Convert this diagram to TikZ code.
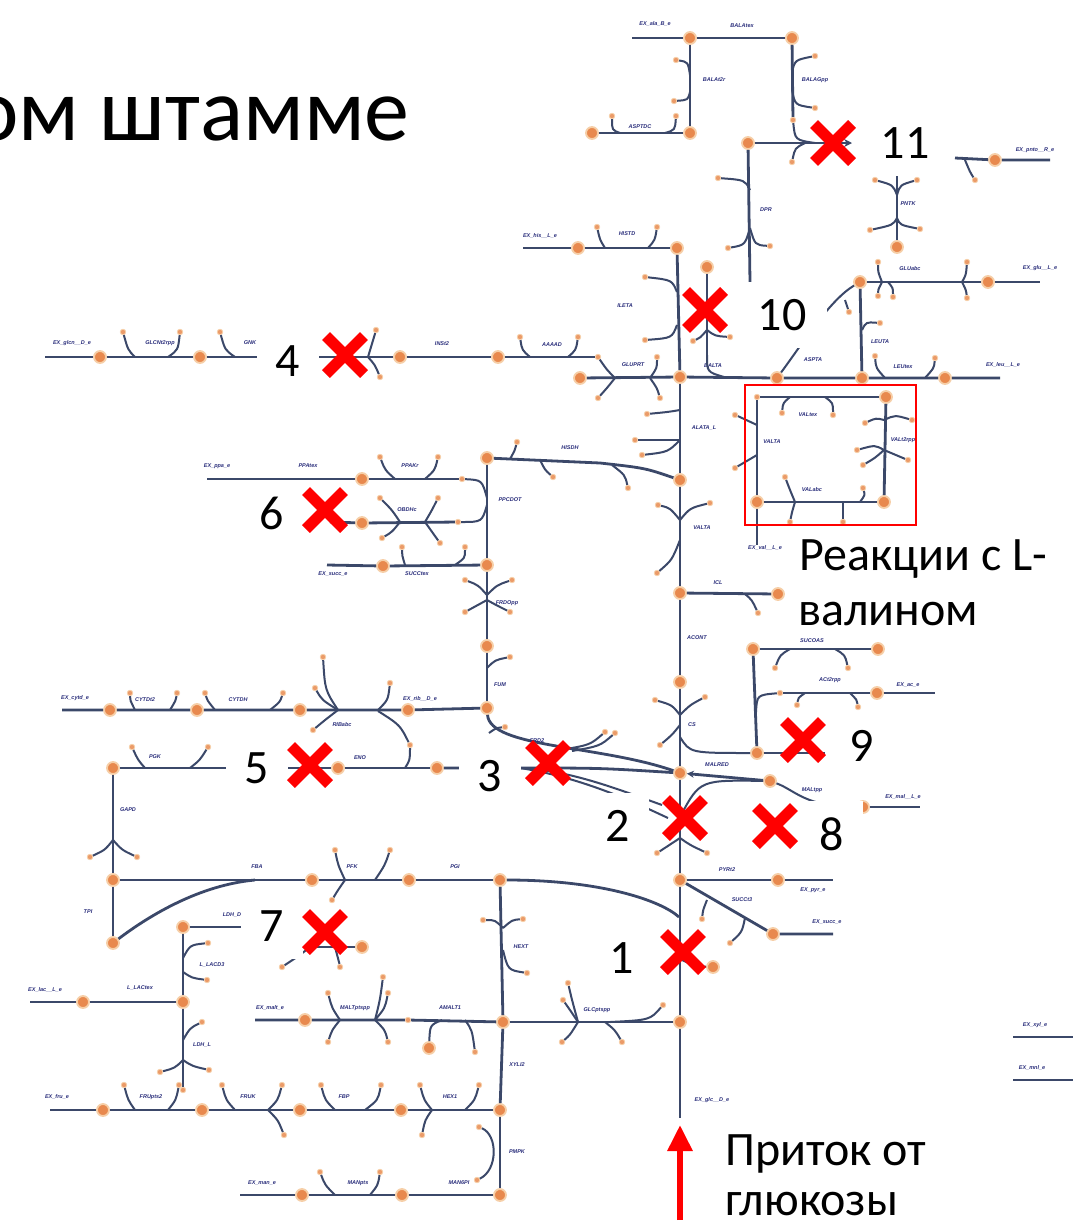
\documentclass[tikz,border=0pt]{standalone}
\usepackage{fontspec}
\setmainfont{Carlito}
\setsansfont{Liberation Sans}
\usetikzlibrary{arrows.meta}
\definecolor{lnc}{HTML}{3B4869}
\definecolor{metc}{HTML}{E8894E}
\definecolor{halo}{HTML}{F6CFA8}
\definecolor{rxc}{HTML}{2B2F7C}
\newcounter{rl}
\newcommand\met[2]{\node[met] (#1) at (#2) {};}
\newcommand\smet[2]{\node[sm] (#1) at (#2) {};}
\newcommand\jn[2]{\coordinate (#1) at (#2);}
\newcommand\rlab[2]{\stepcounter{rl}\node[rxn] (rl\arabic{rl}) at (#1) {#2};}
\newcommand\brn[4]{\coordinate (#1j) at (#2); \node[sm] (#1) at (#4) {}; \draw[brl] (#1j) .. controls (#3) .. (#1);}
\newcommand\xmk[2]{\draw[xm] ({#1-19},{#2-19}) -- ({#1+19},{#2+19}) ({#1-19},{#2+19}) -- ({#1+19},{#2-19});}
\tikzset{
 ln/.style={draw=lnc, line width=2.8pt},
 brl/.style={draw=lnc, line width=2pt},
 met/.style={circle, fill=metc, draw=halo, line width=1.8pt, minimum size=12pt, inner sep=0pt},
 sm/.style={circle, fill=metc!85, draw=halo, line width=0.8pt, minimum size=5.5pt, inner sep=0pt},
 rxn/.style={font=\fontsize{5.5}{6}\selectfont\sffamily\bfseries\itshape, text=rxc, inner sep=0.5pt},
 numb/.style={font=\fontsize{48}{48}\selectfont, fill=white, minimum width=62pt, minimum height=66pt, inner sep=0pt},
 bigt/.style={font=\fontsize{48}{48}\selectfont, inner sep=0pt},
 xm/.style={draw=red, line width=11pt},
}
\begin{document}
\begin{tikzpicture}[x=1pt,y=-1pt]
\fill[white] (0,0) rectangle (1073,1224);
\useasboundingbox (0,0) rectangle (1073,1224);

% ---------- top ----------
\met{a1}{690,38} \met{a2}{792,38} \met{a3}{690,133} \met{a4}{592,133} \met{a5}{748,143}
\jn{exala}{632,38}
\draw[ln] (exala) -- (a1); \draw[ln] (a1) -- (a2); \draw[ln] (a1) -- (a3); \draw[ln] (a4) -- (a3);
\smet{a2s}{793,120} \draw[ln] (a2) -- (a2s);
\jn{a2c}{815,143} \draw[brl] (a2s) .. controls (795,140) .. (a2c);
\jn{x11l}{852,143} \draw[ln,-{Stealth[length=8pt,width=8pt]}] (a5) -- (x11l);
\brn{a5d}{805,143}{795,148}{792,162}
\brn{b1}{690,75}{688,62}{676,60}
\brn{b2}{690,92}{688,100}{674,101}
\brn{b3}{792,72}{795,60}{815,56}
\brn{b4}{792,90}{795,105}{815,108}
\brn{b5}{620,133}{612,130}{612,116}
\brn{b6}{665,133}{675,130}{676,116}
\rlab{655,24}{EX\_ala\_B\_e} \rlab{742,26}{BALAtex} \rlab{714,80}{BALAt2r}
\rlab{815,80}{BALAGpp} \rlab{640,127}{ASPTDC}
% DPR
\jn{dprb}{750,282} \draw[ln] (a5) -- (dprb);
\brn{b7}{750,190}{745,180}{718,178}
\brn{b8}{750,228}{745,245}{728,248}
\brn{b9}{750,228}{755,245}{770,246}
\rlab{766,210}{DPR}
% pnto
\jn{pnA}{955,158} \met{pn1}{995,160} \jn{pnB}{1050,160}
\draw[ln] (pnA) -- (pn1) -- (pnB);
\brn{b10}{965,160}{970,172}{975,180}
\rlab{1035,150}{EX\_pnto\_\_R\_e}
\jn{pk0}{897,172} \met{pn2}{897,247} \draw[ln] (pk0) -- (pn2);
\brn{b11}{897,195}{893,185}{875,180}
\brn{b12}{897,195}{900,185}{917,180}
\brn{b11b}{897,218}{893,225}{870,230}
\brn{b12b}{897,218}{900,225}{920,229}
\rlab{908,204}{PNTK}
% glu
\met{g1}{860,282} \met{g2}{988,282} \jn{gE}{1040,282}
\draw[ln] (g1) -- (g2) -- (gE);
\brn{b13}{882,282}{878,272}{878,262}
\brn{b14}{882,282}{878,290}{878,296}
\brn{b15}{888,282}{893,288}{893,297}
\brn{b16}{962,282}{966,275}{967,262}
\brn{b17}{962,282}{966,290}{967,298}
\rlab{910,269}{GLUabc} \rlab{1040,268}{EX\_glu\_\_L\_e}
% leu
\met{c1}{777,378} \met{c2}{862,378} \met{c3}{945,378} \jn{lE}{1000,378}
\draw[ln] (g1) -- (c2);
\brn{b18}{862,330}{866,322}{880,323}
\draw[brl] (c1) .. controls (805,340) and (830,300) .. (g1);
\brn{b20}{845,300}{845,300}{849,312}
\rlab{880,342}{LEUTA}
\met{t1}{680,377}
\draw[ln] (t1) -- (c1) -- (c2) -- (c3) -- (lE);
\brn{b21}{885,378}{876,368}{875,356}
\brn{b22}{925,378}{934,368}{935,358}
\rlab{903,367}{LEUtex} \rlab{1003,365}{EX\_leu\_\_L\_e} \rlab{813,360}{ASPTA} \rlab{713,366}{BALTA}
% vertical 707
\met{v1}{707,267} \jn{v1b}{707,355} \jn{v1c}{724,377}
\draw[ln] (v1) -- (v1b); \draw[brl] (v1b) .. controls (707,372) .. (v1c);
\brn{b23}{707,330}{700,338}{693,341}
\brn{b24}{707,330}{715,336}{730,337}
% trunk top
\met{t0}{677,248} \draw[ln] (t0) -- (t1);
\brn{b25}{677,292}{672,280}{645,277}
\brn{b26}{677,325}{672,338}{645,340}
\rlab{625,306}{ILETA}
\met{h1}{578,248} \jn{hE}{523,248}
\draw[ln] (hE) -- (h1) -- (t0);
\brn{b27}{605,248}{600,240}{597,227}
\brn{b28}{648,248}{655,240}{657,227}
\rlab{540,236}{EX\_his\_\_L\_e} \rlab{627,234}{HISTD}

% ---------- row 357 ----------
\jn{gcE}{45,357} \met{gc1}{100,357} \met{gc2}{200,357} \met{gc4}{400,357} \met{gc5}{498,357} \smet{gc6}{598,357}
\draw[ln] (gcE) -- (gc1) -- (gc2) -- (gc4) -- (gc5) -- (gc6);
\brn{b29}{135,357}{128,350}{123,332}
\brn{b30}{168,357}{178,350}{180,332}
\brn{b31}{235,357}{225,350}{220,332}
\brn{b32}{368,357}{372,345}{376,330}
\brn{b33}{368,357}{375,365}{380,377}
\brn{b34}{530,357}{522,350}{520,337}
\brn{b35}{568,357}{576,350}{578,337}
\rlab{72,343}{EX\_glcn\_\_D\_e} \rlab{160,343}{GLCNt2rpp} \rlab{250,343}{GNK}
\rlab{442,344}{INSt2} \rlab{552,345}{AAAAD}
\met{gp1}{580,378} \draw[ln] (gp1) -- (t1);
\jn{gpj}{615,378} \draw[brl] (gc6) .. controls (607,370) .. (gpj);
\brn{b37}{615,378}{607,388}{598,398}
\brn{b38}{650,378}{657,368}{657,357}
\brn{b39}{650,378}{657,388}{660,398}
\rlab{633,365}{GLUPRT}

% ---------- ALATA / HISDH ----------
\met{t2}{680,480} \draw[ln] (t1) -- (t2);
\brn{b40}{680,410}{668,412}{647,414}
\brn{b41}{680,440}{668,440}{635,440}
\brn{b42}{680,440}{668,452}{642,455}
\rlab{704,428}{ALATA\_L}
\met{p0}{487,458} \jn{hd1}{600,463}
\draw[ln] (p0) -- (hd1) .. controls (645,468) .. (t2);
\brn{b43}{510,459}{515,450}{517,442}
\brn{b44}{540,460}{545,470}{553,477}
\brn{b45}{612,465}{625,475}{628,488}
\rlab{570,448}{HISDH}
\met{t3}{680,593} \draw[ln] (t2) -- (t3);
\brn{b47}{680,520}{670,508}{658,505}
\brn{b48}{680,520}{690,508}{710,503}
\brn{b49}{680,540}{672,560}{657,573}
\rlab{702,528}{VALTA}
\met{i1}{778,594} \draw[ln] (t3) -- (i1);
\brn{b50}{745,594}{752,600}{758,613}
\rlab{718,583}{ICL}
\met{t4}{680,682} \draw[ln] (t3) -- (t4);
\rlab{697,638}{ACONT}
\met{t5}{680,773} \draw[ln] (t4) -- (t5);
\brn{b51}{680,715}{672,705}{655,700}
\brn{b52}{680,715}{690,705}{705,697}
\brn{b53}{680,725}{672,735}{660,745}
\rlab{692,725}{CS}
% succoa
\met{s1}{753,649} \met{s2}{878,649} \draw[ln] (s1) -- (s2);
\brn{b54}{790,649}{780,655}{775,668}
\brn{b55}{835,649}{845,655}{848,668}
\rlab{812,641}{SUCOAS}
\met{s3}{757,753} \draw[ln] (s1) -- (s3);
\jn{sj}{756,712} \smet{s4}{780,693} \draw[brl] (sj) .. controls (757,695) .. (s4);
\met{s5}{877,693} \jn{s5E}{935,693} \draw[ln] (s4) -- (s5) -- (s5E);
\brn{b56}{805,693}{798,698}{797,705}
\brn{b57}{850,693}{857,700}{858,707}
\rlab{830,680}{ACt2rpp} \rlab{908,685}{EX\_ac\_e}
\jn{csj}{680,737} \draw[brl] (csj) .. controls (690,753) .. (s3);
\jn{s3E}{825,753} \draw[ln] (s3) -- (s3E);

% ---------- PPA / OBDH / SUCC column ----------
\jn{ppE}{207,479} \met{pp1}{362,479} \smet{pp2}{462,479}
\draw[ln] (ppE) -- (pp1) -- (pp2);
\brn{b115}{395,479}{385,470}{380,457}
\brn{b116}{425,479}{435,470}{438,457}
\jn{ppj}{487,498} \draw[brl] (pp2) .. controls (482,480) .. (ppj);
\rlab{217,466}{EX\_ppa\_e} \rlab{308,466}{PPAtex} \rlab{410,466}{PPAKr}
\jn{obE}{330,522} \met{ob1}{362,523} \smet{ob2}{458,522}
\draw[ln] (obE) -- (ob1) -- (ob2);
\jn{obj}{487,505} \draw[brl] (ob2) .. controls (482,522) .. (obj);
\brn{b117}{400,522}{392,510}{380,498}
\brn{b118}{400,522}{392,532}{382,538}
\brn{b119}{425,522}{432,510}{438,498}
\brn{b120}{425,522}{432,532}{440,543}
\rlab{407,510}{OBDHc}
\jn{scE}{327,565} \met{sc1}{383,566} \met{p1}{487,565}
\draw[ln] (scE) -- (sc1) -- (p1);
\brn{b121}{405,565}{402,555}{402,547}
\brn{b122}{455,565}{465,558}{465,547}
\rlab{333,574}{EX\_succ\_e} \rlab{417,574}{SUCCtex}
\draw[ln] (p0) -- (p1);
\rlab{510,500}{PPCDOT}
\met{p2}{487,646} \draw[ln] (p1) -- (p2);
\brn{b123}{487,600}{478,605}{465,612}
\brn{b124}{487,600}{496,605}{510,612}
\brn{b125}{487,595}{478,585}{465,580}
\brn{b126}{487,595}{497,585}{512,580}
\rlab{507,603}{FRDOpp}
\met{q3}{487,708} \draw[ln] (p2) -- (q3);
\brn{b127}{487,668}{495,660}{510,657}
\rlab{500,685}{FUM}

% ---------- row 710 ----------
\jn{cyE}{62,710} \met{cy1}{110,710} \met{cy2}{197,710} \met{cy3}{300,710} \met{cy4}{408,710}
\draw[ln] (cyE) -- (cy1) -- (cy2) -- (cy3) -- (cy4) -- (q3);
\brn{b81}{135,710}{130,700}{130,693}
\brn{b82}{170,710}{176,700}{177,693}
\brn{b83}{215,710}{207,700}{205,693}
\brn{b84}{270,710}{280,702}{283,693}
\brn{b85}{338,710}{322,700}{315,688}
\brn{b86}{338,710}{325,690}{323,657}
\brn{b87}{338,710}{325,720}{313,730}
\brn{b88}{378,710}{388,700}{390,683}
\rlab{75,698}{EX\_cytd\_e} \rlab{145,700}{CYTDt2} \rlab{238,700}{CYTDH}
\rlab{342,725}{RIBabc} \rlab{420,699}{EX\_rib\_\_D\_e}

% ---------- row 768 ----------
\met{f4}{113,768} \met{e1}{338,768} \met{e2}{437,768}
\draw[ln] (f4) -- (e1) -- (e2);
\brn{b78}{145,768}{138,760}{132,747}
\brn{b79}{190,768}{200,760}{208,747}
\rlab{155,757}{PGK} \rlab{360,758}{ENO}
\jn{rbj}{378,711} \smet{rbs}{410,745} \draw[brl] (rbj) .. controls (400,725) .. (rbs);
\jn{rbk}{405,768} \draw[brl] (rbs) .. controls (410,760) .. (rbk);
% fan to MAL
\jn{f1}{520,768}
\draw[ln] (e2) -- (f1) .. controls (600,768) .. (t5);
\draw[ln] (q3) .. controls (490,748) and (600,745) .. (t5);
\jn{fl1}{662,805} \jn{fl2}{668,818}
\draw[brl] (f1) .. controls (570,770) and (620,790) .. (fl1);
\draw[brl] (f1) .. controls (585,778) and (640,805) .. (fl2);
\brn{b58}{560,750}{590,745}{605,732}
\brn{b59}{572,751}{600,746}{615,733}
\brn{b60}{489,733}{496,728}{505,727}
\rlab{537,741}{FRD2}
% MAL
\met{m1}{770,781}
\draw[ln,-{Stealth[length=7pt,width=7pt]}] (m1) -- (t5);
\rlab{717,765}{MALRED}
\met{m2}{863,807} \jn{m2E}{920,807}
\draw[brl] (m1) .. controls (795,790) and (805,807) .. (m2);
\draw[ln] (m2) -- (m2E);
\jn{mj}{681,815} \draw[brl] (mj) .. controls (700,780) .. (m1);
\rlab{812,790}{MALtpp} \rlab{903,797}{EX\_mal\_\_L\_e}

% ---------- pyr / succ ----------
\met{t6}{680,880} \draw[ln] (t5) -- (t6);
\brn{b61}{680,838}{670,845}{657,853}
\brn{b62}{680,838}{690,845}{707,853}
\met{y1}{778,880} \jn{y1E}{833,880} \draw[ln] (t6) -- (y1) -- (y1E);
\rlab{727,870}{PYRt2} \rlab{813,890}{EX\_pyr\_e}
\met{y2}{773,934} \jn{y2E}{833,934} \draw[ln] (t6) -- (y2) -- (y2E);
\brn{b63}{707,900}{703,910}{702,919}
\brn{b64}{745,918}{742,932}{730,943}
\rlab{742,900}{SUCCt3} \rlab{827,922}{EX\_succ\_e}
\met{r1}{500,880} \jn{lc}{679,917}
\draw[ln] (r1) .. controls (600,880) and (660,900) .. (lc);
\met{t7}{680,1022} \draw[ln] (t6) -- (t7);
\met{k1}{713,967} \jn{kj}{682,960} \draw[brl] (kj) .. controls (695,966) .. (k1);
\jn{tE}{680,1118} \draw[ln] (t7) -- (tE);
\rlab{712,1100}{EX\_glc\_\_D\_e}
% glc row
\met{r3}{503,1022} \draw[ln] (r3) -- (t7);
\brn{b65}{578,1022}{572,1000}{568,983}
\brn{b66}{578,1022}{570,1010}{563,1000}
\brn{b67}{578,1022}{570,1035}{562,1042}
\brn{b68}{605,1022}{615,1030}{622,1042}
\jn{gcj}{610,1022} \smet{gcs}{663,1005} \draw[brl] (gcj) .. controls (650,1020) .. (gcs);
\rlab{597,1010}{GLCptspp}
\draw[ln] (r1) -- (r3);
\brn{b69}{503,928}{495,920}{483,920}
\brn{b70}{503,928}{512,920}{523,919}
\brn{b71}{503,950}{508,970}{527,973}
\rlab{521,947}{HEXT}
\met{r4}{500,1110} \draw[ln] (r3) -- (r4);
\rlab{517,1065}{XYLI2}
\met{r5}{500,1195} \draw[ln] (r4) -- (r5);
\rlab{517,1152}{PMPK}
\smet{pm1}{479,1127} \smet{pm2}{477,1180}
\draw[brl] (pm1) .. controls (498,1135) and (498,1170) .. (pm2);

% ---------- row 880 left ----------
\met{r0}{409,880} \met{f6}{312,880} \met{f5}{113,880}
\draw[ln] (f5) -- (f6) -- (r0) -- (r1);
\met{f7}{113,943} \jn{fbj}{255,880}
\draw[ln] (fbj) .. controls (200,885) and (150,915) .. (f7);
\brn{b73}{345,880}{338,865}{335,850}
\brn{b74}{375,880}{385,865}{390,850}
\brn{b75}{345,880}{338,890}{332,900}
\rlab{257,867}{FBA} \rlab{352,867}{PFK} \rlab{455,867}{PGI}
\draw[ln] (f5) -- (f7);
\rlab{88,912}{TPI}
\draw[ln] (f4) -- (f5);
\brn{b76}{113,840}{105,850}{90,857}
\brn{b77}{113,840}{122,850}{137,857}
\rlab{128,810}{GAPD}

% ---------- lactate ----------
\met{l1}{183,927} \jn{l1E}{245,927} \draw[ln] (l1) -- (l1E);
\rlab{232,915}{LDH\_D}
\met{l2}{183,1002} \draw[ln] (l1) -- (l2);
\brn{b89}{183,958}{190,945}{208,943}
\brn{b90}{183,972}{192,978}{207,980}
\rlab{212,965}{L\_LACD3}
\met{l0}{83,1002} \jn{l0E}{30,1002} \draw[ln] (l0E) -- (l0) -- (l2);
\rlab{45,990}{EX\_lac\_\_L\_e} \rlab{140,988}{L\_LACtex}
\smet{l3}{183,1090} \draw[ln] (l2) -- (l3);
\brn{b91}{183,1060}{175,1068}{160,1072}
\brn{b92}{183,1060}{192,1066}{209,1070}
\brn{b93}{183,1040}{190,1028}{202,1022}
\rlab{202,1045}{LDH\_L}
\met{l4}{362,947} \jn{l4w}{300,947} \draw[ln] (l4w) -- (l4);
\brn{b95}{310,947}{300,955}{282,967}
\brn{b96}{335,947}{338,955}{340,967}

% ---------- row 1110 ----------
\jn{frE}{50,1110} \met{fr1}{103,1110} \met{fr2}{202,1110} \met{fr3}{300,1110} \met{fr4}{401,1110}
\draw[ln] (frE) -- (fr1) -- (fr2) -- (fr3) -- (fr4) -- (r4);
\brn{b97}{135,1110}{128,1100}{124,1085}
\brn{b98}{168,1110}{176,1100}{179,1085}
\brn{b99}{235,1110}{226,1100}{222,1085}
\brn{b100}{268,1110}{278,1100}{282,1085}
\brn{b101}{268,1110}{278,1120}{284,1135}
\brn{b102}{335,1110}{325,1100}{321,1085}
\brn{b103}{365,1110}{378,1100}{381,1085}
\brn{b104}{432,1110}{424,1100}{420,1085}
\brn{b105}{465,1110}{475,1100}{479,1085}
\brn{b106}{432,1110}{425,1120}{422,1135}
\rlab{57,1097}{EX\_fru\_e} \rlab{151,1097}{FRUpts2} \rlab{248,1097}{FRUK}
\rlab{344,1097}{FBP} \rlab{450,1097}{HEX1}
% row 1195
\jn{mnE}{240,1195} \met{mn1}{302,1195} \met{mn2}{402,1195}
\draw[ln] (mnE) -- (mn1) -- (mn2) -- (r5);
\brn{b107}{335,1195}{325,1185}{320,1172}
\brn{b108}{370,1195}{378,1185}{380,1172}
\rlab{262,1183}{EX\_man\_e} \rlab{358,1183}{MANpts} \rlab{459,1183}{MAN6PI}
% row 1020
\jn{mlE}{255,1020} \met{ml1}{305,1020} \smet{ml2}{408,1020}
\draw[ln] (mlE) -- (ml1) -- (ml2) -- (r3);
\met{ml3}{429,1048} \jn{mlj}{442,1020} \draw[brl] (ml3) .. controls (430,1025) .. (mlj);
\brn{b109}{465,1020}{472,1030}{475,1052}
\brn{b110}{340,1020}{332,1008}{328,993}
\brn{b111}{375,1020}{380,1000}{383,977}
\brn{b112}{375,1020}{385,1008}{388,993}
\brn{b113}{340,1020}{332,1030}{328,1042}
\brn{b114}{375,1020}{385,1030}{388,1042}
\rlab{270,1008}{EX\_malt\_e} \rlab{355,1008}{MALTptspp} \rlab{450,1008}{AMALT1}

% ---------- valine box ----------
\smet{vb1}{757,397} \met{vb2}{886,397} \met{vb3}{757,502} \met{vb4}{884,502}
\draw[ln] (vb1) -- (vb2); \draw[ln] (vb1) -- (vb3); \draw[ln] (vb2) -- (vb4); \draw[ln] (vb3) -- (vb4);
\jn{vbE}{757,545} \draw[ln] (vb3) -- (vbE);
\brn{b128}{790,397}{783,403}{782,413}
\brn{b129}{825,397}{833,403}{833,415}
\brn{b130}{757,425}{748,420}{735,415}
\brn{b131}{757,455}{748,460}{735,468}
\brn{b132}{884,420}{876,418}{865,423}
\brn{b133}{884,420}{895,415}{912,420}
\brn{b134}{884,450}{875,445}{857,450}
\brn{b135}{884,450}{875,458}{863,465}
\brn{b136}{884,450}{895,455}{908,460}
\brn{b137}{795,502}{790,490}{785,477}
\brn{b138}{795,502}{792,512}{790,522}
\brn{b139}{843,502}{843,512}{843,522}
\brn{b141}{860,502}{865,495}{863,488}
\rlab{808,415}{VALtex} \rlab{772,442}{VALTA} \rlab{903,440}{VALt2rpp}
\rlab{812,490}{VALabc} \rlab{765,548}{EX\_val\_\_L\_e}
\draw[red, line width=1.6pt] (745,385) rectangle (916,525);

% right stubs
\jn{xr1}{1013,1037} \jn{xr2}{1073,1037} \draw[ln] (xr1) -- (xr2);
\jn{xr3}{1013,1080} \jn{xr4}{1073,1080} \draw[ln] (xr3) -- (xr4);
\rlab{1035,1025}{EX\_xyl\_e} \rlab{1032,1068}{EX\_mnl\_e}

% ---------- overlays ----------
\node[anchor=base east, font=\fontsize{90}{90}\selectfont, inner sep=0pt] (ttl) at (410,140) {ом штамме};
\node[numb, minimum width=95pt] (n11) at (905,143) {11};
\node[numb, minimum width=90pt] (n10) at (782,315) {10};
\node[numb] (n4) at (288,361) {4};
\node[numb] (n6) at (272,513) {6};
\node[numb] (n5) at (257,768) {5};
\node[numb] (n3) at (490,776) {3};
\node[numb] (n2) at (618,826) {2};
\node[numb] (n8) at (832,834) {8};
\node[numb] (n9) at (862,746) {9};
\node[numb] (n7) at (272,926) {7};
\node[numb] (n1) at (622,958) {1};
\node[bigt, anchor=base west, fill=white, inner sep=2pt] (rk1) at (797,570) {Реакции с L-};
\node[bigt, anchor=base west, fill=white, inner sep=1pt] (rk2) at (797,625) {валином};
\node[bigt, anchor=base west] (pr1) at (725,1165) {Приток от};
\node[bigt, anchor=base west] (pr2) at (725,1215) {глюкозы};
\jn{arS}{680,1220} \jn{arE}{680,1125}
\draw[red, line width=6pt, -{Triangle[width=24pt,length=26pt]}] (arS) -- (arE);
\xmk{833}{143} \xmk{705}{310} \xmk{345}{355} \xmk{325}{510} \xmk{310}{765}
\xmk{548}{763} \xmk{685}{818} \xmk{775}{826} \xmk{803}{740} \xmk{325}{932} \xmk{683}{952}
\end{tikzpicture}
\end{document}
